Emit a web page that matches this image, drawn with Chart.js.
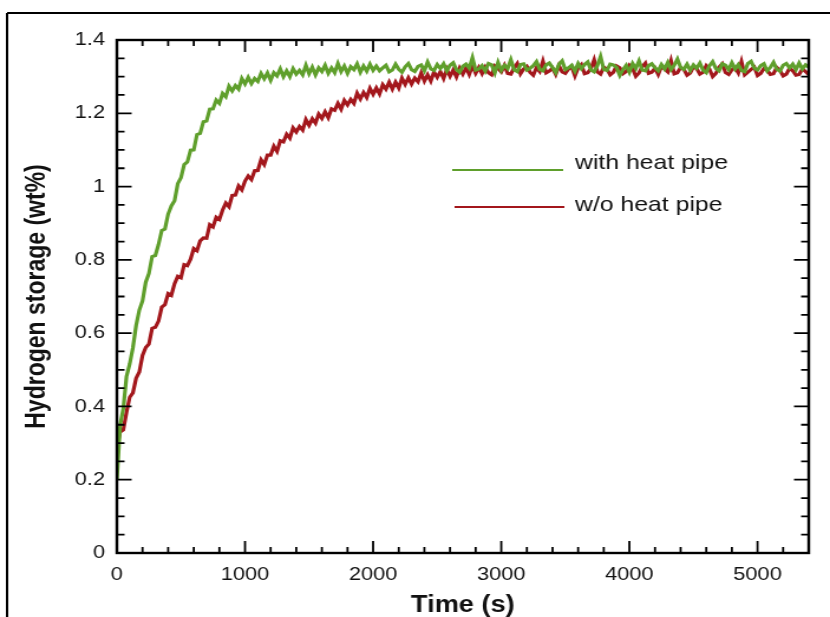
<!DOCTYPE html>
<html>
<head>
<meta charset="utf-8">
<script src="https://cdn.jsdelivr.net/npm/chart.js"></script>
<style>
html,body{margin:0;padding:0;background:#fff;overflow:hidden}
#c{display:block;width:830px !important;height:617px !important}
</style>
</head>
<body>
<canvas id="c" width="703" height="617" style="width:830px;height:617px"></canvas>
<script>
// ---- data ----
const timeStep = 25; // seconds between samples
const seriesNames = ['with heat pipe', 'w/o heat pipe'];
const xTitle = 'Time (s)';
const yTitle = 'Hydrogen storage (wt%)';
const xTickValues = [0, 1000, 2000, 3000, 4000, 5000];
const xTickLabels = ['0', '1000', '2000', '3000', '4000', '5000'];
const yTickValues = [0, 0.2, 0.4, 0.6, 0.8, 1, 1.2, 1.4];
const yTickLabels = ['0', '0.2', '0.4', '0.6', '0.8', '1', '1.2', '1.4'];

const withHeatPipe = [
0.20,0.348,0.394,0.482,0.516,0.560,0.621,0.663,0.688,0.739,
0.763,0.809,0.812,0.842,0.880,0.884,0.925,0.947,0.961,1.008,
1.024,1.060,1.067,1.099,1.100,1.142,1.145,1.177,1.179,1.211,
1.212,1.236,1.227,1.254,1.245,1.274,1.261,1.276,1.266,1.295,
1.280,1.298,1.281,1.295,1.287,1.309,1.294,1.310,1.290,1.311,
1.302,1.321,1.300,1.316,1.300,1.322,1.307,1.317,1.305,1.331,
1.308,1.326,1.305,1.324,1.314,1.331,1.309,1.324,1.311,1.336,
1.314,1.329,1.309,1.327,1.319,1.335,1.312,1.329,1.315,1.334,
1.317,
1.329,1.316,1.324,1.331,1.313,1.318,1.334,1.320,1.312,1.327,
1.336,1.319,1.314,1.328,1.332,1.316,1.340,1.321,1.317,1.333,
1.322,1.335,1.316,1.331,1.338,1.319,1.312,1.328,1.334,1.323,
1.352,1.318,1.321,1.330,1.315,1.336,1.332,1.310,1.339,1.317,
1.331,1.322,1.346,1.319,1.314,1.333,1.335,1.318,1.323,1.330,
1.341,1.320,1.316,1.332,1.337,1.325,1.311,1.334,1.343,1.319,
1.324,1.331,1.315,1.336,1.322,1.333,1.340,1.318,1.313,1.330,
1.355,1.320,1.317,1.334,1.332,1.325,1.303,1.319,1.331,1.312,
1.336,1.322,1.343,1.318,1.316,1.330,1.335,1.324,1.316,1.333,
1.321,1.339,1.319,1.331,1.348,1.325,1.320,1.334,1.317,1.332,
1.323,1.337,1.318,1.311,1.330,1.341,1.322,1.316,1.335,1.331,
1.319,1.338,1.321,1.333,1.317,1.314,1.336,1.342,1.323,1.318,
1.330,1.335,1.316,1.325,1.339,1.320,1.315,1.331,1.336,1.324,
1.334,1.319,1.337,1.321,1.332,1.326
];

const withoutHeatPipe = [
0.29,0.330,0.336,0.384,0.425,0.437,0.477,0.494,0.539,0.561,
0.570,0.613,0.616,0.633,0.671,0.678,0.708,0.703,0.735,0.755,
0.751,0.787,0.784,0.802,0.831,0.825,0.852,0.860,0.859,0.896,
0.890,0.916,0.910,0.936,0.955,0.945,0.976,0.977,1.002,0.991,
1.015,1.029,1.019,1.043,1.044,1.073,1.060,1.086,1.086,1.110,
1.096,1.125,1.122,1.143,1.132,1.160,1.149,1.164,1.154,1.183,
1.167,1.185,1.173,1.198,1.186,1.204,1.188,1.212,1.208,1.227,
1.211,1.235,1.223,1.238,1.227,1.255,1.239,1.257,1.243,1.268,
1.252,1.269,1.253,1.278,1.266,1.285,1.266,1.285,1.269,1.296,
1.279,1.297,1.280,1.296,1.286,1.310,1.288,1.305,1.288,1.313,
1.298,1.314,1.295,1.320,1.301,1.318,1.299,1.323,1.307,1.324,
1.306,1.330,1.309,1.325,1.308,
1.326,1.311,1.305,1.329,1.322,1.313,1.331,1.309,1.307,1.324,
1.336,1.308,1.321,1.328,1.312,1.304,1.325,1.314,1.342,1.310,
1.315,1.323,1.306,1.330,1.313,1.309,1.321,1.327,1.302,1.324,
1.333,1.308,1.311,1.322,1.346,1.313,1.307,1.326,1.320,1.305,
1.312,1.329,1.324,1.308,1.314,1.331,1.322,1.301,1.310,1.327,
1.337,1.309,1.312,1.323,1.306,1.328,1.321,1.313,1.344,1.308,
1.311,1.325,1.320,1.304,1.310,1.327,1.322,1.307,1.312,1.330,
1.321,1.300,1.309,1.326,1.335,1.311,1.306,1.319,1.324,1.310,
1.341,1.305,1.312,1.320,1.326,1.303,1.309,1.322,1.318,1.306,
1.308,1.325,1.317,1.302,1.307,1.323,1.316,1.304,1.306,1.321,
1.314,1.305
];

// ---- styling ----
const GREEN = '#5f9f2c';
const RED = '#a3171c';
const FONT = "'Liberation Sans', Arial, Helvetica, sans-serif";
const TEXT = '#111111';

const toPoints = arr => arr.map((v, i) => ({ x: i * timeStep, y: v }));

const framePlugin = {
  id: 'frame',
  afterDraw(chart) {
    const ctx = chart.ctx;
    const { left, right, top, bottom } = chart.chartArea;
    const xs = chart.scales.x, ys = chart.scales.y;
    ctx.save();
    ctx.strokeStyle = '#000';
    // outer frame (top and left edges)
    ctx.lineWidth = 2;
    ctx.beginPath();
    ctx.moveTo(6, 13); ctx.lineTo(chart.width, 13);
    ctx.moveTo(6, 13); ctx.lineTo(6, chart.height);
    ctx.stroke();
    // inward tick marks on all four sides
    ctx.lineWidth = 1.8;
    ctx.beginPath();
    for (let v = 0; v <= xs.max + 1e-9; v += 200) {
      const major = xTickValues.includes(v);
      const len = major ? 12 : 6;
      const px = xs.getPixelForValue(v);
      ctx.moveTo(px, bottom); ctx.lineTo(px, bottom - len);
      ctx.moveTo(px, top); ctx.lineTo(px, top + len);
    }
    for (let k = 0; k <= 28; k++) {
      const v = k * 0.05;
      const major = k % 4 === 0;
      const len = major ? 12.5 : 6.5;
      const py = ys.getPixelForValue(v);
      ctx.moveTo(left, py); ctx.lineTo(left + len, py);
      ctx.moveTo(right, py); ctx.lineTo(right - len, py);
    }
    ctx.stroke();
    // plot box
    ctx.lineWidth = 2.4;
    ctx.strokeRect(left, top, right - left, bottom - top);
    // legend inside plot
    const items = [
      { name: seriesNames[0], color: GREEN, x1: 383, x2: 477, y: 170, ty: 163 },
      { name: seriesNames[1], color: RED, x1: 385, x2: 478, y: 207, ty: 205 }
    ];
    ctx.font = '21px ' + FONT;
    ctx.textBaseline = 'middle';
    ctx.textAlign = 'left';
    items.forEach(it => {
      ctx.strokeStyle = it.color;
      ctx.lineWidth = 2.2;
      ctx.beginPath(); ctx.moveTo(it.x1, it.y); ctx.lineTo(it.x2, it.y); ctx.stroke();
      ctx.fillStyle = TEXT;
      ctx.fillText(it.name, 487, it.ty);
    });
    ctx.restore();
  }
};

new Chart(document.getElementById('c'), {
  type: 'line',
  data: {
    datasets: [
      { label: seriesNames[0], data: toPoints(withHeatPipe), borderColor: GREEN, borderWidth: 3.2, pointRadius: 0, tension: 0, fill: false },
      { label: seriesNames[1], data: toPoints(withoutHeatPipe), borderColor: RED, borderWidth: 3.2, pointRadius: 0, tension: 0, fill: false }
    ]
  },
  options: {
    responsive: false,
    animation: false,
    devicePixelRatio: 1,
    layout: { padding: { left: 0, right: 18, top: 40, bottom: 0 } },
    plugins: { legend: { display: false }, tooltip: { enabled: false } },
    scales: {
      x: {
        type: 'linear', min: 0, max: 5400,
        afterBuildTicks: s => { s.ticks = xTickValues.map(v => ({ value: v })); },
        afterFit: s => { s.height = 64; },
        grid: { display: false, drawTicks: false },
        border: { display: false },
        ticks: {
          padding: 11, color: TEXT, maxRotation: 0, autoSkip: false,
          font: { family: FONT, size: 18.5 },
          callback: v => xTickLabels[xTickValues.indexOf(v)]
        },
        title: { display: true, text: xTitle, color: TEXT, padding: { top: 0, bottom: 0 },
          font: { family: FONT, size: 23, weight: 'bold', lineHeight: 1 } }
      },
      y: {
        type: 'linear', min: 0, max: 1.4,
        afterBuildTicks: s => { s.ticks = yTickValues.map(v => ({ value: v })); },
        afterFit: s => { s.width = 99; },
        grid: { display: false, drawTicks: false },
        border: { display: false },
        ticks: {
          padding: 10, color: TEXT, autoSkip: false,
          font: { family: FONT, size: 18.5 },
          callback: v => yTickLabels[yTickValues.findIndex(t => Math.abs(t - v) < 1e-9)]
        },
        title: { display: true, text: yTitle, color: TEXT, padding: { top: 20, bottom: 0 },
          font: { family: FONT, size: 23, weight: 'bold', lineHeight: 1 } }
      }
    }
  },
  plugins: [framePlugin]
});
</script>
</body>
</html>
